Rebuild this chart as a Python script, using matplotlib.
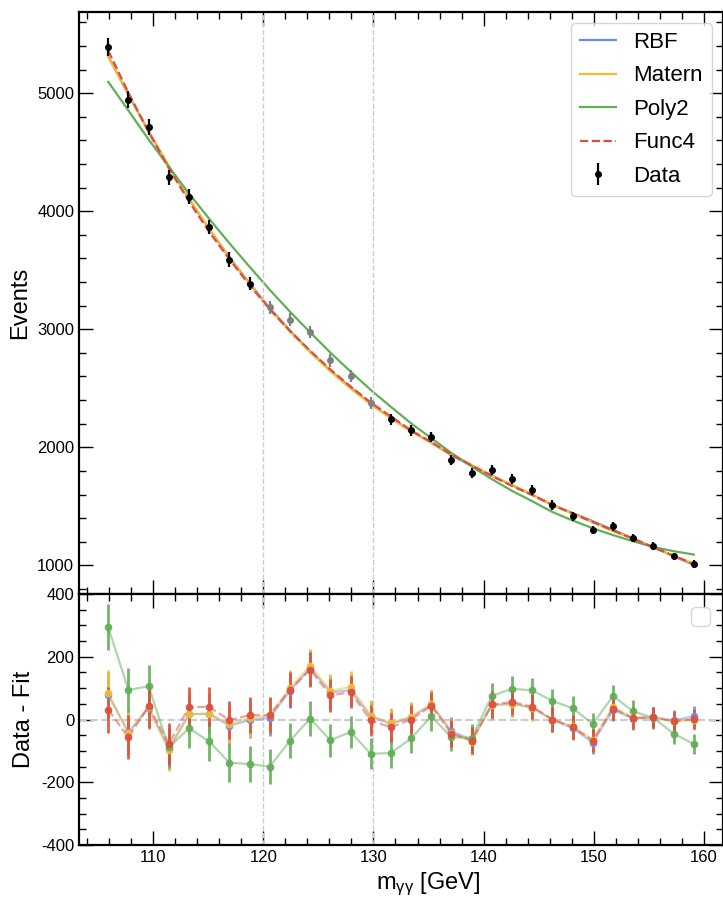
import numpy as np
import matplotlib
matplotlib.use('Agg')
import matplotlib.pyplot as plt
from matplotlib.ticker import MultipleLocator

plt.rcParams['font.family'] = ['Liberation Sans', 'DejaVu Sans']
plt.rcParams['mathtext.fontset'] = 'custom'
plt.rcParams['mathtext.rm'] = 'Liberation Sans'
plt.rcParams['mathtext.it'] = 'Liberation Sans'
plt.rcParams['axes.unicode_minus'] = False

# ---------------- data ----------------
mass = np.array([105.92, 107.75, 109.58, 111.42, 113.25, 115.08, 116.92, 118.75,
                 120.58, 122.42, 124.25, 126.08, 127.92, 129.75, 131.58, 133.42,
                 135.25, 137.08, 138.92, 140.75, 142.58, 144.42, 146.25, 148.08,
                 149.92, 151.75, 153.58, 155.42, 157.25, 159.08])
events = np.array([5391, 4947, 4715, 4287, 4123, 3867, 3591, 3388, 3185, 3081,
                   2977, 2737, 2602, 2377, 2236, 2143, 2087, 1895, 1779, 1805,
                   1729, 1636, 1511, 1416, 1300, 1331, 1230, 1160, 1075, 1013])

resid_rbf = np.array([78, -41, 37, -93, 17, 18, -20, -2, 5, 92, 164, 87, 93, 10, -14,
                      6, 47, -37, -65, 45, 51, 38, -1, -27, -74, 31, 3, 7, -3, 10])
resid_matern = np.array([84, -44, 39, -98, 17, 18, -15, 4, 13, 101, 171, 92, 103, 12, -11,
                         9, 49, -42, -71, 47, 49, 37, 0, -22, -65, 41, 4, 7, -6, -1])
resid_poly2 = np.array([294, 94, 106, -89, -28, -70, -138, -142, -150, -68, 3, -66, -40,
                        -109, -107, -60, 10, -57, -58, 75, 98, 93, 59, 36, -14, 75, 26, 5, -45, -78])
resid_func4 = np.array([31, -57, 43, -78, 40, 40, -2, 14, 14, 95, 159, 77, 87, -3, -25,
                        0, 43, -45, -67, 48, 56, 41, 0, -24, -67, 35, 5, 7, -6, 1])

models = ['RBF', 'Matern', 'Poly2', 'Func4']
residuals = [resid_rbf, resid_matern, resid_poly2, resid_func4]
window = (120, 130)
# --------------------------------------

colors = {'RBF': '#6A8FEA', 'Matern': '#F4BC2E', 'Poly2': '#63AE58', 'Func4': '#DD4D3E'}
styles = {'RBF': '-', 'Matern': '-', 'Poly2': '-', 'Func4': '--'}

errors = np.sqrt(events)

fig = plt.figure(figsize=(7.23, 8.97), dpi=100)
W, H = 723.0, 897.0
left, right = 79, 723
ax1 = fig.add_axes([left / W, (H - 594) / H, (right - left) / W, (594 - 12) / H])
ax2 = fig.add_axes([left / W, (H - 845) / H, (right - left) / W, (845 - 594) / H], sharex=ax1)

# top panel
for name, res in zip(models, residuals):
    ax1.plot(mass, events - res, color=colors[name], ls=styles[name], lw=1.6, label=name)

inside = (mass > window[0]) & (mass < window[1])
ax1.errorbar(mass[~inside], events[~inside], yerr=errors[~inside], fmt='o', color='black',
             ms=4, elinewidth=1.6, label='Data')
ax1.errorbar(mass[inside], events[inside], yerr=errors[inside], fmt='o', color='grey',
             ms=4, elinewidth=1.6)
for xv in window:
    ax1.axvline(xv, color='0.8', ls='--', lw=1.0)
ax1.set_ylabel('Events', fontsize=17)
ax1.legend(loc='upper right', fontsize=16, handlelength=1.6, labelspacing=0.56)

# bottom panel
for xv in window:
    ax2.axvline(xv, color='0.8', ls='--', lw=1.0)
ax2.axhline(0, color='0.8', ls='--', lw=1.5)
for name, res in zip(models, residuals):
    ax2.plot(mass, res, color=colors[name], ls=styles[name], lw=1.6, alpha=0.5)
    ax2.errorbar(mass, res, yerr=errors, fmt='o', color=colors[name], ms=4.5,
                 elinewidth=2.0, alpha=0.9)
ax2.set_ylim(-400, 400)
ax2.set_ylabel('Data - Fit', fontsize=17)
ax2.set_xlabel(r'm$_{\gamma\gamma}$ [GeV]', fontsize=17, x=0.542)
ax2.legend(handles=[], loc='upper right', fontsize=17, borderaxespad=0.55)

for ax in (ax1, ax2):
    ax.xaxis.set_major_locator(MultipleLocator(10))
    ax.xaxis.set_minor_locator(MultipleLocator(2))
    ax.tick_params(which='both', direction='in', top=True, right=True, labelsize=12)
    ax.tick_params(which='major', length=10, width=1)
    ax.tick_params(which='minor', length=5, width=1)
    for s in ax.spines.values():
        s.set_linewidth(1.6)
ax1.yaxis.set_major_locator(MultipleLocator(1000))
ax1.yaxis.set_minor_locator(MultipleLocator(200))
ax2.yaxis.set_major_locator(MultipleLocator(200))
ax2.yaxis.set_minor_locator(MultipleLocator(50))
ax1.tick_params(labelbottom=False)

fig.savefig('out.png', dpi=100)
